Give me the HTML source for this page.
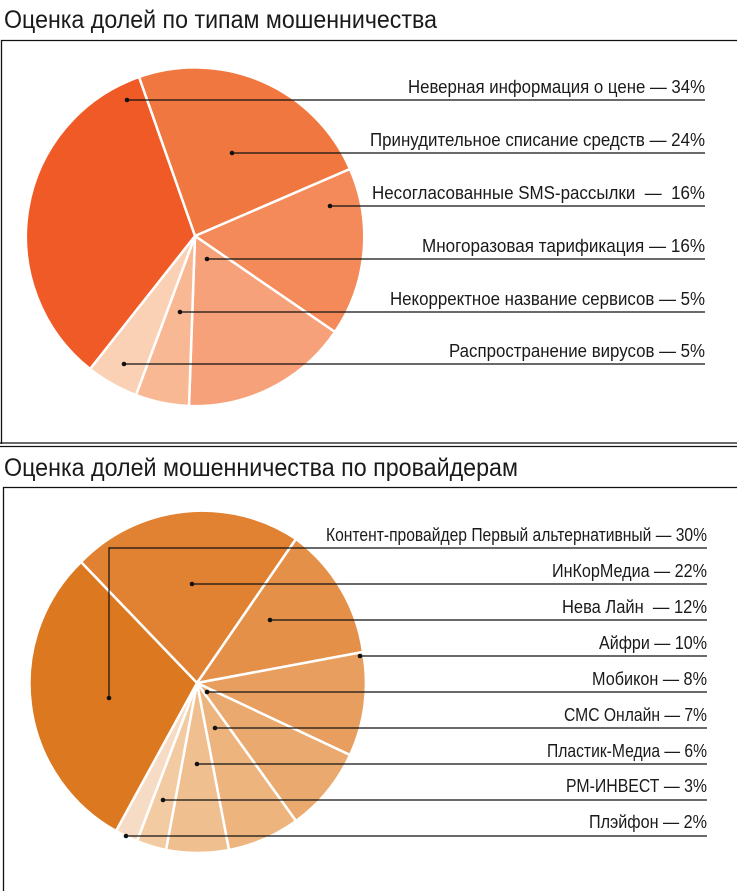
<!DOCTYPE html>
<html><head><meta charset="utf-8"><style>
body{margin:0;background:#fff;width:737px;height:891px;overflow:hidden}
svg text{font-family:"Liberation Sans Narrow","Liberation Sans",sans-serif;fill:#1a1a1a}
</style></head><body>
<svg width="737" height="891" viewBox="0 0 737 891" xmlns="http://www.w3.org/2000/svg">
<text x="4" y="28" font-size="25" textLength="433" lengthAdjust="spacingAndGlyphs">Оценка долей по типам мошенничества</text>
<path d="M1.5 444 V40.5 H737" fill="none" stroke="#111" stroke-width="1.3"/>
<line x1="0" y1="443" x2="737" y2="443" stroke="#111" stroke-width="1.2"/>
<line x1="0" y1="446.5" x2="737" y2="446.5" stroke="#111" stroke-width="1.2"/>
<g stroke="#fff" stroke-width="2.5" stroke-linejoin="round">
<path d="M195 236 L139 77 A169 169 0 0 1 350 169 Z" fill="#f07840"/>
<path d="M195 236 L350 169 A169 169 0 0 1 335 332 Z" fill="#f48a5a"/>
<path d="M195 236 L335 332 A169 169 0 0 1 189 406 Z" fill="#f6a17a"/>
<path d="M195 236 L189 406 A169 169 0 0 1 136 395 Z" fill="#f8b894"/>
<path d="M195 236 L136 395 A169 169 0 0 1 90 369 Z" fill="#fbd1b6"/>
<path d="M195 236 L90 369 A169 169 0 0 1 139 77 Z" fill="#f05a26"/>
</g>
<g stroke="#111" stroke-width="1.2">
<line x1="127" y1="100" x2="705" y2="100"/><line x1="232" y1="153" x2="705" y2="153"/>
<line x1="330" y1="206" x2="705" y2="206"/><line x1="207" y1="259" x2="705" y2="259"/>
<line x1="180" y1="312" x2="705" y2="312"/><line x1="124" y1="364" x2="705" y2="364"/>
</g>
<g fill="#111"><circle cx="127" cy="100" r="2.3"/><circle cx="232" cy="153" r="2.3"/><circle cx="330" cy="206" r="2.3"/><circle cx="207" cy="259" r="2.3"/><circle cx="180" cy="312" r="2.3"/><circle cx="124" cy="364" r="2.3"/></g>
<g font-size="18" text-anchor="end">
<text x="705" y="93" textLength="297" lengthAdjust="spacingAndGlyphs">Неверная информация о цене — 34%</text>
<text x="705" y="146" textLength="335" lengthAdjust="spacingAndGlyphs">Принудительное списание средств — 24%</text>
<text x="705" y="199" textLength="333" lengthAdjust="spacingAndGlyphs">Несогласованные SMS-рассылки&#160; —&#160; 16%</text>
<text x="705" y="252" textLength="283" lengthAdjust="spacingAndGlyphs">Многоразовая тарификация — 16%</text>
<text x="705" y="305" textLength="315" lengthAdjust="spacingAndGlyphs">Некорректное название сервисов — 5%</text>
<text x="705" y="357" textLength="256" lengthAdjust="spacingAndGlyphs">Распространение вирусов — 5%</text>
</g>
<text x="4" y="476" font-size="25" textLength="514" lengthAdjust="spacingAndGlyphs">Оценка долей мошенничества по провайдерам</text>
<path d="M3.5 891 V487.5 H737" fill="none" stroke="#111" stroke-width="1.3"/>
<g stroke="#fff" stroke-width="2.5" stroke-linejoin="round">
<path d="M197 683 L81 562 A169 169 0 0 1 296 539 Z" fill="#e08232"/>
<path d="M197 683 L296 539 A169 169 0 0 1 363 652 Z" fill="#e49048"/>
<path d="M197 683 L363 652 A169 169 0 0 1 350 755 Z" fill="#e89e5e"/>
<path d="M197 683 L350 755 A169 169 0 0 1 296 821 Z" fill="#eaa96e"/>
<path d="M197 683 L296 821 A169 169 0 0 1 229 850 Z" fill="#edb47e"/>
<path d="M197 683 L229 850 A169 169 0 0 1 166 850 Z" fill="#f0bf8f"/>
<path d="M197 683 L166 850 A169 169 0 0 1 137 841 Z" fill="#f3cba3"/>
<path d="M197 683 L137 841 A169 169 0 0 1 116 831 Z" fill="#f6dcc4"/>
<path d="M197 683 L116 831 A169 169 0 0 1 81 562 Z" fill="#dc7820"/>
</g>
<g stroke="#111" stroke-width="1.2" fill="none">
<path d="M109 698 V548 H707"/>
<line x1="192" y1="584" x2="707" y2="584"/><line x1="270" y1="620" x2="707" y2="620"/>
<line x1="360" y1="656" x2="707" y2="656"/><line x1="207" y1="692" x2="707" y2="692"/>
<line x1="215" y1="728" x2="707" y2="728"/><line x1="197" y1="764" x2="707" y2="764"/>
<line x1="163" y1="800" x2="707" y2="800"/><line x1="126" y1="836" x2="707" y2="836"/>
</g>
<g fill="#111"><circle cx="109" cy="698" r="2.3"/><circle cx="192" cy="584" r="2.3"/><circle cx="270" cy="620" r="2.3"/><circle cx="360" cy="656" r="2.3"/><circle cx="207" cy="692" r="2.3"/><circle cx="215" cy="728" r="2.3"/><circle cx="197" cy="764" r="2.3"/><circle cx="163" cy="800" r="2.3"/><circle cx="126" cy="836" r="2.3"/></g>
<g font-size="18" text-anchor="end">
<text x="707" y="541" textLength="381" lengthAdjust="spacingAndGlyphs">Контент-провайдер Первый альтернативный — 30%</text>
<text x="707" y="577" textLength="155" lengthAdjust="spacingAndGlyphs">ИнКорМедиа — 22%</text>
<text x="707" y="613" textLength="145" lengthAdjust="spacingAndGlyphs">Нева Лайн&#160; — 12%</text>
<text x="707" y="649" textLength="108" lengthAdjust="spacingAndGlyphs">Айфри — 10%</text>
<text x="707" y="685" textLength="115" lengthAdjust="spacingAndGlyphs">Мобикон — 8%</text>
<text x="707" y="721" textLength="143" lengthAdjust="spacingAndGlyphs">СМС Онлайн — 7%</text>
<text x="707" y="757" textLength="160" lengthAdjust="spacingAndGlyphs">Пластик-Медиа — 6%</text>
<text x="707" y="792" textLength="141" lengthAdjust="spacingAndGlyphs">РМ-ИНВЕСТ — 3%</text>
<text x="707" y="828" textLength="118" lengthAdjust="spacingAndGlyphs">Плэйфон — 2%</text>
</g>
</svg>
</body></html>
